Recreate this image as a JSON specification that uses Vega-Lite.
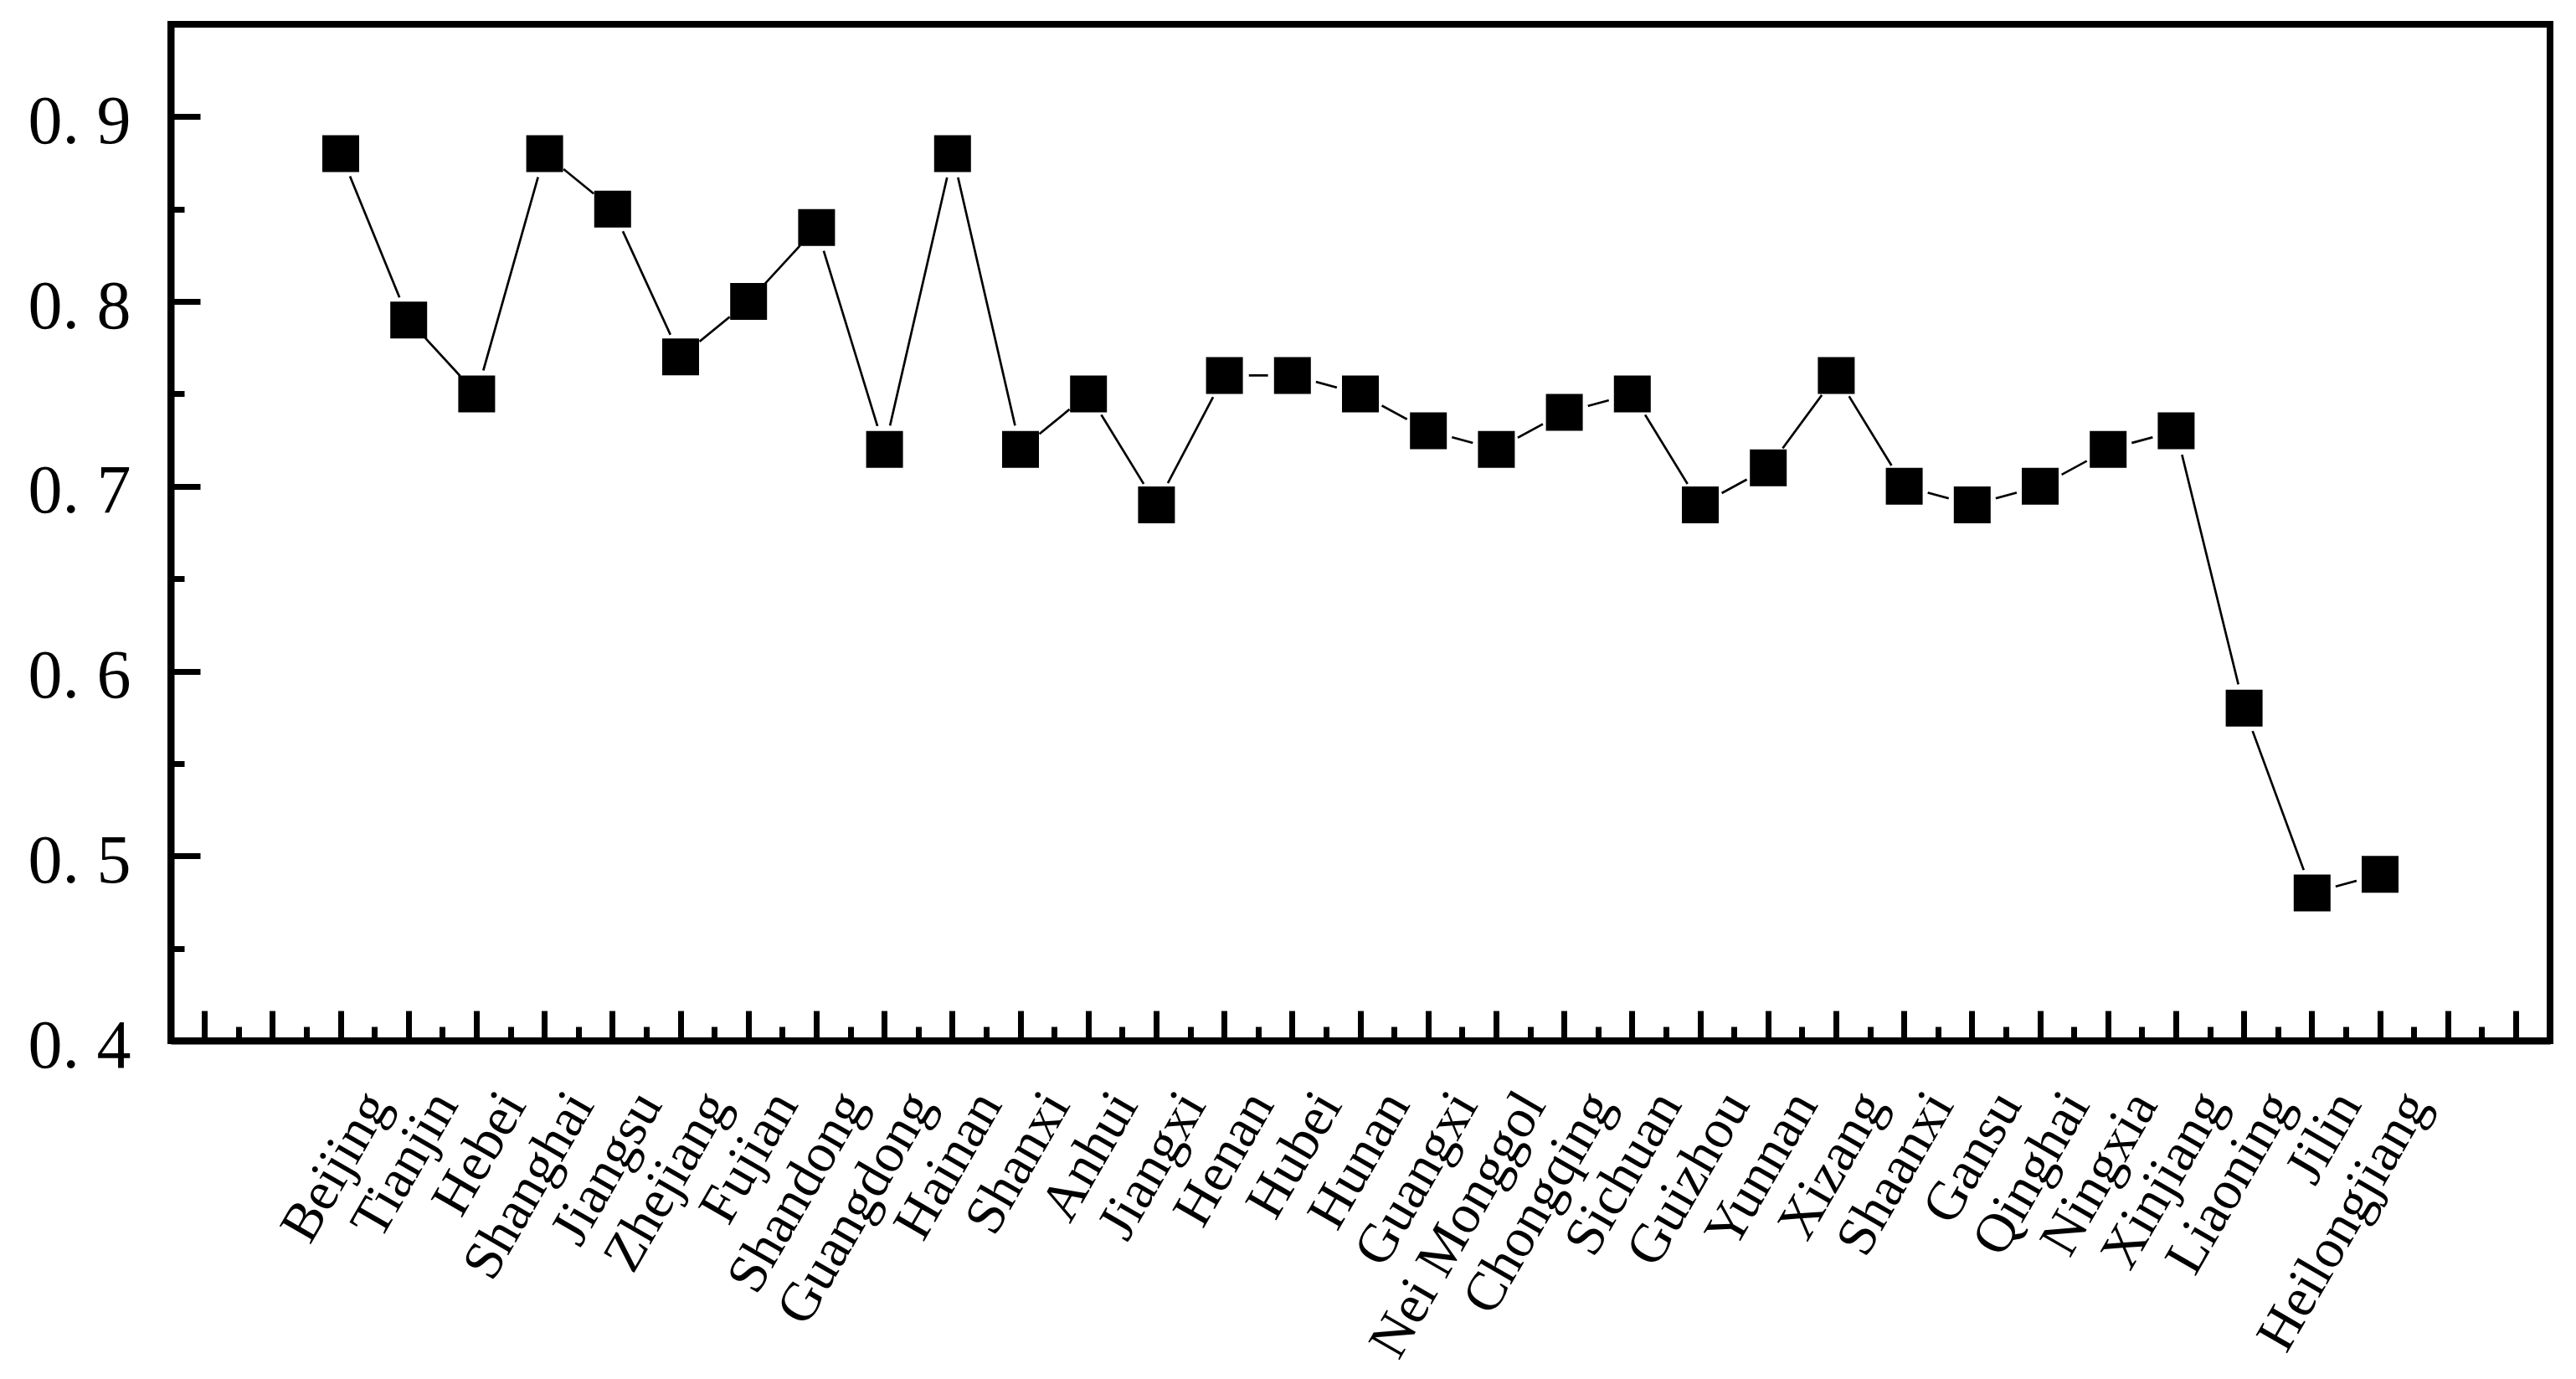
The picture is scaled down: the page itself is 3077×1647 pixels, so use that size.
{
  "$schema": "https://vega.github.io/schema/vega-lite/v6.json",
  "width": 2842,
  "height": 1214,
  "autosize": {"type": "none"},
  "padding": {"left": 204, "top": 29, "right": 31, "bottom": 404},
  "background": "white",
  "config": {"view": {"stroke": "black", "strokeWidth": 8}, "font": "Liberation Serif"},
  "data": {"values": [
    {"province": "Beijing", "value": 0.88},
    {"province": "Tianjin", "value": 0.79},
    {"province": "Hebei", "value": 0.75},
    {"province": "Shanghai", "value": 0.88},
    {"province": "Jiangsu", "value": 0.85},
    {"province": "Zhejiang", "value": 0.77},
    {"province": "Fujian", "value": 0.80},
    {"province": "Shandong", "value": 0.84},
    {"province": "Guangdong", "value": 0.72},
    {"province": "Hainan", "value": 0.88},
    {"province": "Shanxi", "value": 0.72},
    {"province": "Anhui", "value": 0.75},
    {"province": "Jiangxi", "value": 0.69},
    {"province": "Henan", "value": 0.76},
    {"province": "Hubei", "value": 0.76},
    {"province": "Hunan", "value": 0.75},
    {"province": "Guangxi", "value": 0.73},
    {"province": "Nei Monggol", "value": 0.72},
    {"province": "Chongqing", "value": 0.74},
    {"province": "Sichuan", "value": 0.75},
    {"province": "Guizhou", "value": 0.69},
    {"province": "Yunnan", "value": 0.71},
    {"province": "Xizang", "value": 0.76},
    {"province": "Shaanxi", "value": 0.70},
    {"province": "Gansu", "value": 0.69},
    {"province": "Qinghai", "value": 0.70},
    {"province": "Ningxia", "value": 0.72},
    {"province": "Xinjiang", "value": 0.73},
    {"province": "Liaoning", "value": 0.58},
    {"province": "Jilin", "value": 0.48},
    {"province": "Heilongjiang", "value": 0.49}
  ]},
  "layer": [
    {
      "mark": {"type": "line", "color": "black", "strokeWidth": 2.7},
      "encoding": {
        "x": {
          "field": "province", "type": "nominal",
          "sort": ["_1","_2","Beijing","Tianjin","Hebei","Shanghai","Jiangsu","Zhejiang","Fujian","Shandong","Guangdong","Hainan","Shanxi","Anhui","Jiangxi","Henan","Hubei","Hunan","Guangxi","Nei Monggol","Chongqing","Sichuan","Guizhou","Yunnan","Xizang","Shaanxi","Gansu","Qinghai","Ningxia","Xinjiang","Liaoning","Jilin","Heilongjiang","_3","_4"],
          "scale": {"type": "band", "domain": ["_1","_2","Beijing","Tianjin","Hebei","Shanghai","Jiangsu","Zhejiang","Fujian","Shandong","Guangdong","Hainan","Shanxi","Anhui","Jiangxi","Henan","Hubei","Hunan","Guangxi","Nei Monggol","Chongqing","Sichuan","Guizhou","Yunnan","Xizang","Shaanxi","Gansu","Qinghai","Ningxia","Xinjiang","Liaoning","Jilin","Heilongjiang","_3","_4"], "paddingInner": 0, "paddingOuter": 0},
          "axis": {
            "orient": "bottom", "title": null, "grid": false,
            "domainColor": "black", "domainWidth": 8,
            "tickColor": "black", "tickWidth": 7, "tickSize": -36, "bandPosition": 0.5,
            "labelAngle": -60, "labelAlign": "right", "labelBaseline": "middle",
            "labelFont": "Liberation Serif", "labelFontSize": 66, "labelColor": "black",
            "labelPadding": 102, "labelOffset": 43, "labelLimit": 2000,
            "labelOverlap": false, "labelBound": false, "labelFlush": false,
            "labelExpr": "indexof(datum.label, '_') == 0 ? '' : datum.label"
          }
        },
        "y": {
          "field": "value", "type": "quantitative",
          "scale": {"domain": [0.4, 0.95], "zero": false, "nice": false},
          "axis": {
            "orient": "left", "title": null, "grid": false,
            "values": [0.4, 0.5, 0.6, 0.7, 0.8, 0.9],
            "domainColor": "black", "domainWidth": 8,
            "tickColor": "black", "tickWidth": 7, "tickSize": -35,
            "labelFont": "Liberation Serif", "labelFontSize": 82, "labelColor": "black",
            "labelPadding": 83, "labelOffset": 6, "labelLimit": 2000,
            "labelOverlap": false, "labelBound": false, "labelFlush": false,
            "labelExpr": "replace(format(datum.value, '.1f'), '.', '. ')"
          }
        }
      }
    },
    {
      "mark": {"type": "point", "shape": "circle", "filled": true, "fill": "white", "size": 3421, "opacity": 1, "strokeWidth": 0},
      "encoding": {
        "x": {
          "field": "province", "type": "nominal",
          "sort": ["_1","_2","Beijing","Tianjin","Hebei","Shanghai","Jiangsu","Zhejiang","Fujian","Shandong","Guangdong","Hainan","Shanxi","Anhui","Jiangxi","Henan","Hubei","Hunan","Guangxi","Nei Monggol","Chongqing","Sichuan","Guizhou","Yunnan","Xizang","Shaanxi","Gansu","Qinghai","Ningxia","Xinjiang","Liaoning","Jilin","Heilongjiang","_3","_4"],
          "scale": {"type": "band", "domain": ["_1","_2","Beijing","Tianjin","Hebei","Shanghai","Jiangsu","Zhejiang","Fujian","Shandong","Guangdong","Hainan","Shanxi","Anhui","Jiangxi","Henan","Hubei","Hunan","Guangxi","Nei Monggol","Chongqing","Sichuan","Guizhou","Yunnan","Xizang","Shaanxi","Gansu","Qinghai","Ningxia","Xinjiang","Liaoning","Jilin","Heilongjiang","_3","_4"], "paddingInner": 0, "paddingOuter": 0},
          "axis": {
            "orient": "bottom", "title": null, "grid": false, "domain": false, "labels": false,
            "tickColor": "black", "tickWidth": 7, "tickSize": -17, "bandPosition": 0
          }
        },
        "y": {
          "field": "value", "type": "quantitative",
          "scale": {"domain": [0.4, 0.95], "zero": false, "nice": false},
          "axis": {
            "orient": "left", "title": null, "grid": false, "domain": false, "labels": false,
            "values": [0.45, 0.55, 0.65, 0.75, 0.85],
            "tickColor": "black", "tickWidth": 7, "tickSize": -16
          }
        }
      }
    },
    {
      "mark": {"type": "point", "shape": "square", "filled": true, "fill": "black", "size": 1936, "opacity": 1, "strokeWidth": 0},
      "encoding": {
        "x": {
          "field": "province", "type": "nominal",
          "sort": ["_1","_2","Beijing","Tianjin","Hebei","Shanghai","Jiangsu","Zhejiang","Fujian","Shandong","Guangdong","Hainan","Shanxi","Anhui","Jiangxi","Henan","Hubei","Hunan","Guangxi","Nei Monggol","Chongqing","Sichuan","Guizhou","Yunnan","Xizang","Shaanxi","Gansu","Qinghai","Ningxia","Xinjiang","Liaoning","Jilin","Heilongjiang","_3","_4"],
          "scale": {"type": "band", "domain": ["_1","_2","Beijing","Tianjin","Hebei","Shanghai","Jiangsu","Zhejiang","Fujian","Shandong","Guangdong","Hainan","Shanxi","Anhui","Jiangxi","Henan","Hubei","Hunan","Guangxi","Nei Monggol","Chongqing","Sichuan","Guizhou","Yunnan","Xizang","Shaanxi","Gansu","Qinghai","Ningxia","Xinjiang","Liaoning","Jilin","Heilongjiang","_3","_4"], "paddingInner": 0, "paddingOuter": 0},
          "axis": null
        },
        "y": {
          "field": "value", "type": "quantitative",
          "scale": {"domain": [0.4, 0.95], "zero": false, "nice": false},
          "axis": null
        }
      }
    }
  ],
  "resolve": {"axis": {"x": "independent", "y": "independent"}}
}
